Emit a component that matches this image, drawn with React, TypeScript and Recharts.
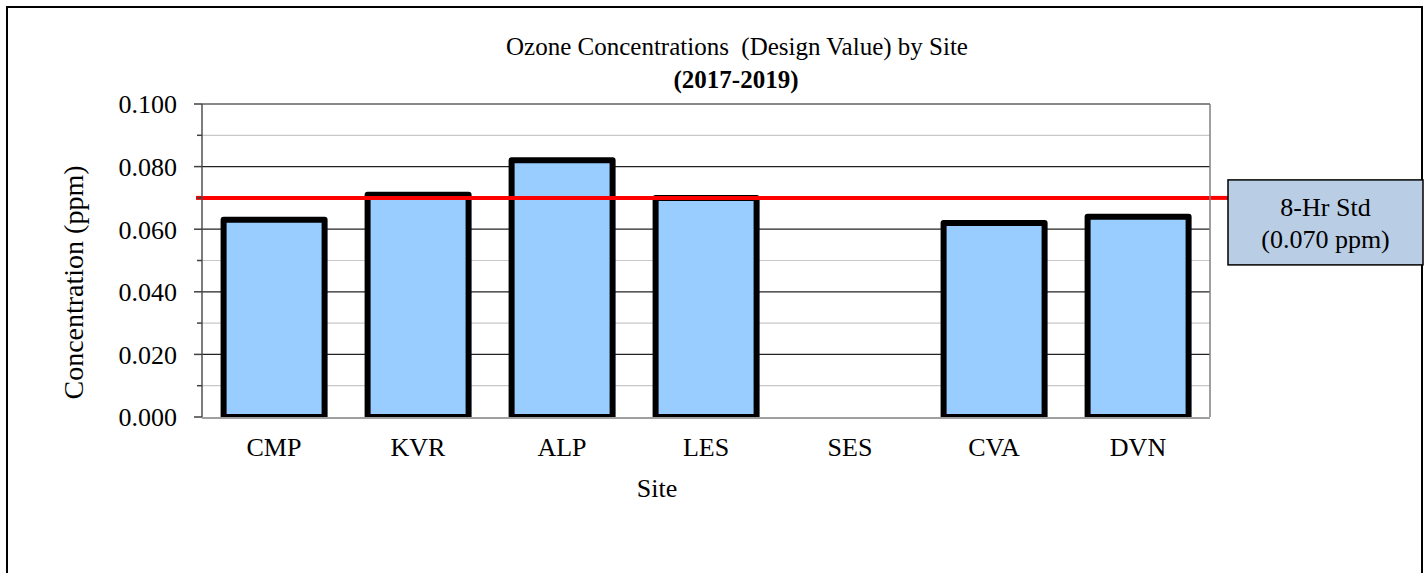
import { ComposedChart, Bar, XAxis, YAxis, CartesianGrid, ReferenceLine } from 'recharts';

const sites = ['CMP', 'KVR', 'ALP', 'LES', 'SES', 'CVA', 'DVN'];
const designValues = [0.063, 0.071, 0.082, 0.07, null, 0.062, 0.064];
const yTicks = [0, 0.01, 0.02, 0.03, 0.04, 0.05, 0.06, 0.07, 0.08, 0.09, 0.1];
const edgeTicks = [0, 1, 2, 3, 4, 5, 6, 7];
const standard = 0.07;
const standardLines = ['8-Hr Std', '(0.070 ppm)'];

const data = sites.map((site, i) => ({ site, value: designValues[i] }));

const FONT = '"Liberation Serif", "Times New Roman", serif';
const isMajor = (v: number) => Math.round(v * 1000) % 20 === 0;

const YTick = (props: any) => {
    const { x, y, payload } = props;
    const major = isMajor(payload.value);
    return (
        <g>
            <line x1={x - (major ? 8 : 5)} x2={x} y1={y} y2={y} stroke="#404040" strokeWidth={1.5} />
            {major && (
                <text x={x - 25} y={y} dy="0.36em" textAnchor="end" fontFamily={FONT} fontSize={26} fill="#000">
                    {payload.value.toFixed(3)}
                </text>
            )}
        </g>
    );
};

const XTick = (props: any) => {
    const { x, y, payload } = props;
    return (
        <text x={x} y={y + 39} textAnchor="middle" fontFamily={FONT} fontSize={26} fill="#000">
            {payload.value}
        </text>
    );
};

// grid: dark lines every 0.02, light ones in between, gray frame at the top
const GridLine = (props: any) => {
    const { x1, x2, y1, y2, index } = props;
    const v = yTicks[index];
    if (v === undefined || v === 0) return null;
    let stroke = '#c8c8c8';
    if (v === 0.1) stroke = '#808080';
    else if (isMajor(v)) stroke = '#222';
    return <line x1={x1} x2={x2} y1={y1} y2={y2} stroke={stroke} strokeWidth={v === 0.1 ? 1.5 : 1.2} />;
};

const StdLabel = (props: any) => {
    const { viewBox } = props;
    const left = viewBox.x;
    const right = viewBox.x + viewBox.width;
    const y = viewBox.y;
    const boxX = right + 18;
    const boxW = 195;
    return (
        <g>
            <line x1={left - 6} x2={left} y1={y} y2={y} stroke="#ff0000" strokeWidth={4} />
            <line x1={right} x2={boxX} y1={y} y2={y} stroke="#ff0000" strokeWidth={4} />
            <rect x={boxX} y={y - 18} width={boxW} height={85} fill="#b9cde5" stroke="#000" strokeWidth={1.5} />
            <text x={boxX + boxW / 2} y={y + 9} dy="0.36em" textAnchor="middle" fontFamily={FONT} fontSize={26} fill="#000">
                {standardLines[0]}
            </text>
            <text x={boxX + boxW / 2} y={y + 41} dy="0.36em" textAnchor="middle" fontFamily={FONT} fontSize={26} fill="#000">
                {standardLines[1]}
            </text>
        </g>
    );
};

const YLabel = (props: any) => {
    const { viewBox } = props;
    const cx = viewBox.x + 73;
    const cy = viewBox.y + viewBox.height / 2 + 22;
    return (
        <text x={cx} y={cy} transform={`rotate(-90 ${cx} ${cy})`} dy="0.36em" textAnchor="middle" fontFamily={FONT} fontSize={28} fill="#000">
            Concentration (ppm)
        </text>
    );
};

export default function App() {
    return (
        <div style={{ position: 'absolute', left: 0, top: 0, width: 1425, height: 573, background: '#fff', overflow: 'hidden' }}>
            <div style={{ position: 'absolute', left: 6, top: 6, width: 1417, height: 620, border: '2px solid #000', boxSizing: 'border-box' }} />
            <svg width={1425} height={110} style={{ position: 'absolute', left: 0, top: 0 }}>
                <text x={737} y={55} textAnchor="middle" fontFamily={FONT} fontSize={25} fill="#000" style={{ whiteSpace: 'pre' }}>
                    {'Ozone Concentrations  (Design Value) by Site'}
                </text>
                <text x={736} y={88} textAnchor="middle" fontFamily={FONT} fontSize={25} fontWeight="bold" fill="#000">
                    (2017-2019)
                </text>
            </svg>
            <svg width={1425} height={573} style={{ position: 'absolute', left: 0, top: 0 }}>
                <text x={657} y={497} textAnchor="middle" fontFamily={FONT} fontSize={26} fill="#000">
                    Site
                </text>
            </svg>
            <div style={{ position: 'absolute', left: 0, top: 0 }}>
                <ComposedChart width={1425} height={573} data={data} margin={{ top: 103, right: 214, bottom: 154, left: 0 }} barCategoryGap="15%">
                    <CartesianGrid yAxisId="left" xAxisId="cat" vertical={false} horizontal={GridLine} />
                    <XAxis xAxisId="edges" type="number" domain={[0, 7]} ticks={edgeTicks} interval={0} tick={false} tickSize={7} height={1} stroke="#808080" tickLine={{ stroke: '#808080', strokeWidth: 1.5 }} axisLine={{ stroke: '#808080', strokeWidth: 1.5 }} allowDataOverflow />
                    <XAxis xAxisId="cat" dataKey="site" type="category" height={1} axisLine={false} tickLine={false} tickSize={0} tickMargin={0} tick={<XTick />} interval={0} />
                    <XAxis xAxisId="top" orientation="top" type="number" domain={[0, 7]} tick={false} tickLine={false} height={1} axisLine={{ stroke: '#808080', strokeWidth: 1.5 }} />
                    <YAxis yAxisId="left" domain={[0, 0.1]} ticks={yTicks} interval={0} width={202} tickSize={0} tickMargin={0} tickLine={false} tick={<YTick />} axisLine={{ stroke: '#505050', strokeWidth: 1.5 }} label={<YLabel />} allowDataOverflow />
                    <YAxis yAxisId="right" orientation="right" domain={[0, 0.1]} width={1} tick={false} tickLine={false} axisLine={{ stroke: '#808080', strokeWidth: 1.5 }} />
                    <Bar xAxisId="cat" yAxisId="left" dataKey="value" fill="#99ccff" stroke="#000" strokeWidth={6} strokeLinejoin="round" isAnimationActive={false} />
                    <ReferenceLine xAxisId="cat" yAxisId="left" y={standard} stroke="#ff0000" strokeWidth={4} label={<StdLabel />} />
                </ComposedChart>
            </div>
        </div>
    );
}
